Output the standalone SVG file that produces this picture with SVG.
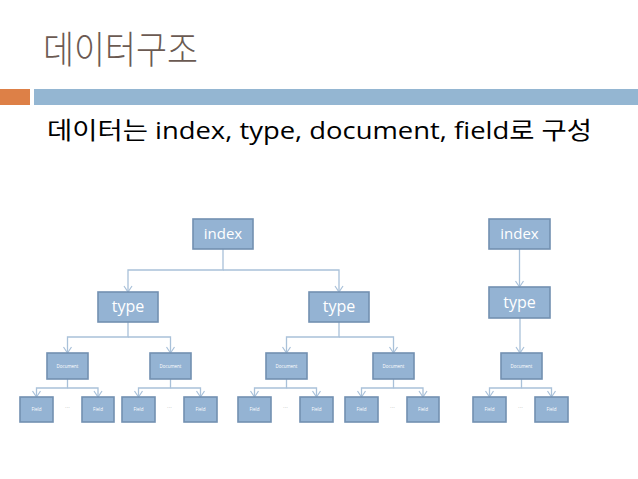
<svg xmlns="http://www.w3.org/2000/svg" width="638" height="479" viewBox="0 0 638 479">
<defs>
<style>
.box{fill:#94b3d3;stroke:#7290b1;stroke-width:1.6}
.lbl{fill:#ffffff;font-family:"Open Sans","Liberation Sans",sans-serif;text-anchor:middle}
.big{font-size:15px}
.mid{font-size:16px}
.sm{font-size:4.5px}
.con{fill:none;stroke:#a9c1d9;stroke-width:1.3}
.dots{fill:#b0b0b0;font-family:"Liberation Sans",sans-serif;font-size:6px;text-anchor:middle}
</style>
<marker id="arr" viewBox="0 0 10 10" refX="9" refY="5" markerWidth="10" markerHeight="10" markerUnits="userSpaceOnUse" orient="auto">
<path d="M3,1 L9,5 L3,9" fill="none" stroke="#a9c1d9" stroke-width="1.2"/>
</marker>
</defs>
<rect width="638" height="479" fill="#ffffff"/>
<g id="header">
<text x="43" y="63" font-family="'Noto Sans CJK KR',sans-serif" font-size="38" font-weight="300" fill="#6b5a52" textLength="155" lengthAdjust="spacingAndGlyphs">데이터구조</text>
<rect x="0" y="89" width="30" height="16" fill="#dd8047"/>
<rect x="34" y="89" width="604" height="16" fill="#94b6d2"/>
<text x="47" y="139" font-family="'Open Sans','Noto Sans CJK KR',sans-serif" font-size="24" fill="#000000" textLength="545" lengthAdjust="spacingAndGlyphs">데이터는 index, type, document, field로 구성</text>
</g>
<g id="connectors">
<path class="con" d="M223,249 V270 H128 V292" marker-end="url(#arr)"/>
<path class="con" d="M223,270 H339 V292" marker-end="url(#arr)"/>
<path class="con" d="M128,322 V337 H67.5 V353" marker-end="url(#arr)"/>
<path class="con" d="M128,337 H170.5 V353" marker-end="url(#arr)"/>
<path class="con" d="M339,322 V337 H286.5 V353" marker-end="url(#arr)"/>
<path class="con" d="M339,337 H393.5 V353" marker-end="url(#arr)"/>
<path class="con" d="M67.5,379 V388 H36.5 V397" marker-end="url(#arr)"/>
<path class="con" d="M67.5,388 H98 V397" marker-end="url(#arr)"/>
<path class="con" d="M170.5,379 V388 H138.5 V397" marker-end="url(#arr)"/>
<path class="con" d="M170.5,388 H200.5 V397" marker-end="url(#arr)"/>
<path class="con" d="M286.5,379 V388 H254.5 V397" marker-end="url(#arr)"/>
<path class="con" d="M286.5,388 H316.5 V397" marker-end="url(#arr)"/>
<path class="con" d="M393.5,379 V388 H361.5 V397" marker-end="url(#arr)"/>
<path class="con" d="M393.5,388 H423 V397" marker-end="url(#arr)"/>
<path class="con" d="M519.5,249 V287" marker-end="url(#arr)"/>
<path class="con" d="M520,318 V353" marker-end="url(#arr)"/>
<path class="con" d="M521.5,379 V388 H489.5 V397" marker-end="url(#arr)"/>
<path class="con" d="M521.5,388 H551.5 V397" marker-end="url(#arr)"/>
</g>
<g id="index1"><rect class="box" x="193" y="219" width="60" height="30"/><text class="lbl big" x="223" y="239">index</text></g>
<g id="type1"><rect class="box" x="98" y="292" width="60" height="30"/><text class="lbl mid" x="128" y="312">type</text></g>
<g id="type2"><rect class="box" x="309" y="292" width="60" height="30"/><text class="lbl mid" x="339" y="312">type</text></g>
<g id="doc1"><rect class="box" x="47" y="353" width="41" height="26"/><text class="lbl sm" x="67.5" y="367.5">Document</text></g>
<g id="doc2"><rect class="box" x="150" y="353" width="41" height="26"/><text class="lbl sm" x="170.5" y="367.5">Document</text></g>
<g id="doc3"><rect class="box" x="266" y="353" width="41" height="26"/><text class="lbl sm" x="286.5" y="367.5">Document</text></g>
<g id="doc4"><rect class="box" x="373" y="353" width="41" height="26"/><text class="lbl sm" x="393.5" y="367.5">Document</text></g>
<g id="field1"><rect class="box" x="20" y="397" width="33" height="25"/><text class="lbl sm" x="36.5" y="411">Field</text></g>
<g id="field2"><rect class="box" x="82" y="397" width="32" height="25"/><text class="lbl sm" x="98" y="411">Field</text></g>
<g id="field3"><rect class="box" x="122" y="397" width="33" height="25"/><text class="lbl sm" x="138.5" y="411">Field</text></g>
<g id="field4"><rect class="box" x="184" y="397" width="33" height="25"/><text class="lbl sm" x="200.5" y="411">Field</text></g>
<g id="field5"><rect class="box" x="238" y="397" width="33" height="25"/><text class="lbl sm" x="254.5" y="411">Field</text></g>
<g id="field6"><rect class="box" x="300" y="397" width="33" height="25"/><text class="lbl sm" x="316.5" y="411">Field</text></g>
<g id="field7"><rect class="box" x="345" y="397" width="33" height="25"/><text class="lbl sm" x="361.5" y="411">Field</text></g>
<g id="field8"><rect class="box" x="407" y="397" width="32" height="25"/><text class="lbl sm" x="423" y="411">Field</text></g>
<g id="index2"><rect class="box" x="489" y="219" width="61" height="30"/><text class="lbl big" x="519.5" y="239">index</text></g>
<g id="type3"><rect class="box" x="489" y="287" width="61" height="31"/><text class="lbl mid" x="519.5" y="307.5">type</text></g>
<g id="doc5"><rect class="box" x="501" y="353" width="41" height="26"/><text class="lbl sm" x="521.5" y="367.5">Document</text></g>
<g id="field9"><rect class="box" x="473" y="397" width="33" height="25"/><text class="lbl sm" x="489.5" y="411">Field</text></g>
<g id="field10"><rect class="box" x="535" y="397" width="33" height="25"/><text class="lbl sm" x="551.5" y="411">Field</text></g>
<g id="ellipses">
<text class="dots" x="67.5" y="408">...</text>
<text class="dots" x="169.5" y="408">...</text>
<text class="dots" x="285.5" y="408">...</text>
<text class="dots" x="392.5" y="408">...</text>
<text class="dots" x="520.5" y="408">...</text>
</g>
</svg>
